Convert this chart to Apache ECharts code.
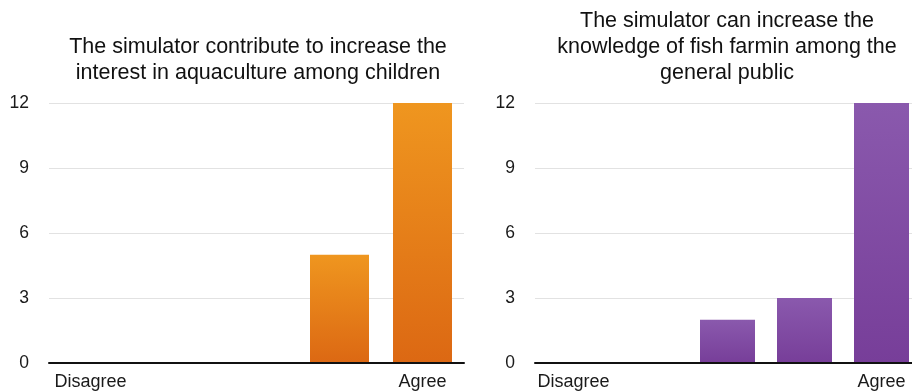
<!DOCTYPE html>
<html>
<head>
<meta charset="utf-8">
<style>
  html, body { margin: 0; padding: 0; background: #fff; }
  #chart { width: 912px; height: 392px; }
</style>
<script src="https://cdn.jsdelivr.net/npm/echarts@6/dist/echarts.min.js"></script>
</head>
<body>
<div id="chart"></div>
<script>
// Likert scale categories (only the two ends carry a label)
const categories = ['Disagree', '', '', '', 'Agree'];

// Response counts per scale point
const interestValues = [0, 0, 0, 5, 12];
const knowledgeValues = [0, 0, 2, 3, 12];

// Value axis ticks
const yTicks = [0, 3, 6, 9, 12];

const titleInterest = 'The simulator contribute to increase the\ninterest in aquaculture among children';
const titleKnowledge = 'The simulator can increase the\nknowledge of fish farmin among the\ngeneral public';

const FONT = '"Liberation Sans", Arial, Helvetica, sans-serif';

function grad(top, bottom) {
  return new echarts.graphic.LinearGradient(0, 0, 0, 1, [
    { offset: 0, color: top },
    { offset: 1, color: bottom }
  ]);
}

const chart = echarts.init(document.getElementById('chart'), null, { renderer: 'canvas' });

function xAxis(gridIndex) {
  return {
    type: 'category',
    gridIndex,
    data: categories,
    axisTick: { show: false },
    axisLine: { show: true, lineStyle: { color: '#111', width: 2 } },
    axisLabel: {
      interval: 0,
      color: '#1a1a1a',
      fontFamily: FONT,
      fontSize: 18,
      margin: 10
    },
    z: 5
  };
}

function yAxis(gridIndex) {
  return {
    type: 'value',
    gridIndex,
    min: yTicks[0],
    max: yTicks[yTicks.length - 1],
    interval: yTicks[1] - yTicks[0],
    axisLine: { show: false },
    axisTick: { show: false },
    axisLabel: {
      color: '#1a1a1a',
      fontFamily: FONT,
      fontSize: 17.5,
      margin: 20
    },
    splitLine: { lineStyle: { color: '#e2e2e2', width: 1 } }
  };
}

const titleStyle = {
  fontFamily: FONT,
  fontSize: 21.5,
  fontWeight: 'normal',
  color: '#111',
  lineHeight: 26
};

chart.setOption({
  animation: false,
  backgroundColor: '#fff',
  title: [
    { text: titleInterest, left: 253, top: 29, textAlign: 'center', textStyle: titleStyle },
    { text: titleKnowledge, left: 722, top: 3, textAlign: 'center', textStyle: titleStyle }
  ],
  grid: [
    { left: 49, top: 103, width: 415, height: 260, outerBoundsMode: 'none' },
    { left: 535, top: 103, width: 385, height: 260, outerBoundsMode: 'none' }
  ],
  xAxis: [xAxis(0), xAxis(1)],
  yAxis: [yAxis(0), yAxis(1)],
  series: [
    {
      type: 'bar',
      xAxisIndex: 0,
      yAxisIndex: 0,
      data: interestValues,
      barWidth: 59,
      itemStyle: { color: grad('#EF961F', '#DC6813') }
    },
    {
      type: 'bar',
      xAxisIndex: 1,
      yAxisIndex: 1,
      data: knowledgeValues,
      barWidth: 55,
      itemStyle: { color: grad('#8A59AD', '#773E99') }
    }
  ]
});
</script>
</body>
</html>
